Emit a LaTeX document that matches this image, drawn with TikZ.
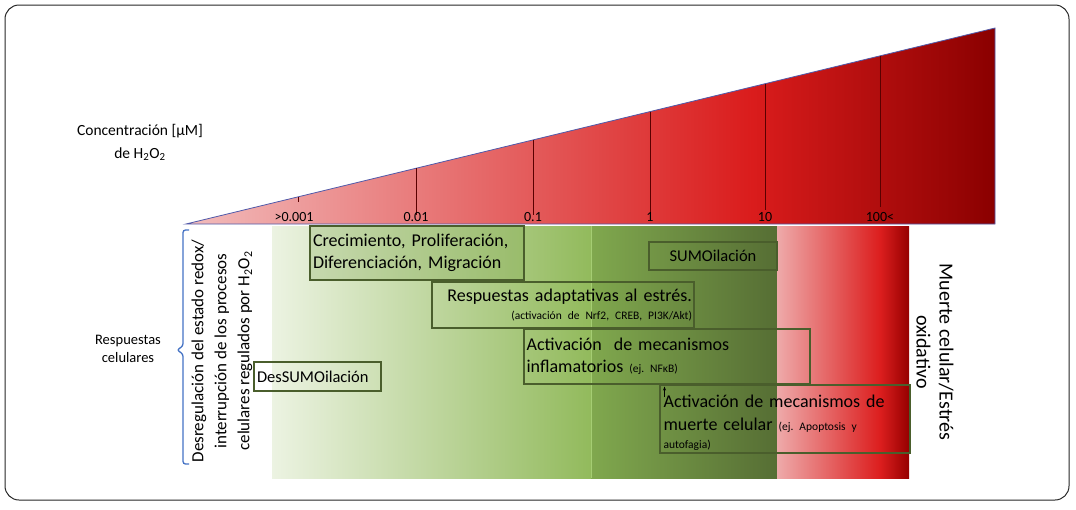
\documentclass[tikz,border=0pt]{standalone}
\usepackage{fontspec}
\setmainfont{Carlito}
\usetikzlibrary{arrows.meta}
\definecolor{tpink}{RGB}{242,188,188}
\definecolor{tred}{RGB}{218,28,28}
\definecolor{tdark}{RGB}{138,0,0}
\definecolor{gl1}{RGB}{236,243,226}
\definecolor{gl2}{RGB}{146,186,92}
\definecolor{gr1}{RGB}{128,168,78}
\definecolor{gr2}{RGB}{86,110,52}
\definecolor{rp}{RGB}{238,170,170}
\definecolor{rr}{RGB}{220,30,30}
\definecolor{rd}{RGB}{150,0,0}
\definecolor{boxline}{RGB}{74,94,44}
\definecolor{bracecol}{RGB}{68,114,196}
\definecolor{trioutline}{RGB}{80,90,170}
\definecolor{tickcol}{RGB}{90,0,0}
\pgfdeclarehorizontalshading{tri}{100bp}{color(0bp)=(tpink); color(25bp)=(tpink); color(60bp)=(tred); color(75bp)=(tdark); color(100bp)=(tdark)}
\pgfdeclarehorizontalshading{greenA}{100bp}{color(0bp)=(gl1); color(25bp)=(gl1); color(75bp)=(gl2); color(100bp)=(gl2)}
\pgfdeclarehorizontalshading{greenB}{100bp}{color(0bp)=(gr1); color(25bp)=(gr1); color(75bp)=(gr2); color(100bp)=(gr2)}
\pgfdeclarehorizontalshading{redbar}{100bp}{color(0bp)=(rp); color(25bp)=(rp); color(64bp)=(rr); color(75bp)=(rd); color(100bp)=(rd)}
\tikzset{
  box/.style={draw=boxline, line width=1.2pt, inner sep=0pt, inner xsep=3pt, font=\fontsize{18}{22}\selectfont\frenchspacing},
  boxtext/.style={inner sep=0pt, font=\fontsize{18}{22}\selectfont\frenchspacing},
  ticklbl/.style={font=\fontsize{14}{16}\selectfont, anchor=base},
  tickline/.style={draw=tickcol, line width=0.6pt},
}
\newcommand{\sm}{\fontsize{11.5}{13}\selectfont}
\begin{document}
\begin{tikzpicture}[x=1pt,y=-1pt]
\useasboundingbox (0,0) rectangle (1076,509);
% frame
\draw[line width=1pt, rounded corners=14pt, draw=black!85] (5,5) rectangle (1069,500);
% triangle
\shade[shading=tri, draw=trioutline, line width=0.8pt] (186,224) -- (995,28) -- (995,224) -- cycle;
% ticks
\foreach \x/\yb in {416/215, 533/215, 650/212, 765/210, 880/207}{
  \draw[tickline] (\x,{224-0.24227*(\x-186)}) -- (\x,\yb);
}
\draw[tickline] (298,{224-0.24227*(298-186)}) -- (298,202);
\node[ticklbl] (t1) at (294,221) {>0.001};
\node[ticklbl] (t2) at (416,221) {0.01};
\node[ticklbl] (t3) at (533,221) {0.1};
\node[ticklbl] (t4) at (650,221) {1};
\node[ticklbl] (t5) at (765,221) {10};
\node[ticklbl] (t6) at (880,221) {100<};
\node[align=center, font=\fontsize{15.5}{23}\selectfont] (conc) at (140,142) {Concentración [µM]\\de H\textsubscript{2}O\textsubscript{2}};
% background regions
\shade[shading=greenA] (272,226) rectangle (591,478);
\shade[shading=greenB] (591,226) rectangle (777,478);
\draw[draw={rgb,255:red,165;green,205;blue,115}, line width=1pt] (591,226) -- (591,478);
\shade[shading=redbar] (777,226) rectangle (909,478);
% brace
\draw[bracecol, line width=1.3pt, rounded corners=2.5pt] (189,230) -- (183,230) -- (183,346) -- (177,350) -- (183,354) -- (183,464) -- (189,464);
\node[align=center, font=\fontsize{14.5}{18}\selectfont] (resp) at (128,349) {Respuestas\\celulares};
\node[rotate=90, align=center, font=\fontsize{17}{23}\selectfont] (desreg) at (222,351) {Desregulación del estado redox/\\interrupción de los procesos\\celulares regulados por H\textsubscript{2}O\textsubscript{2}};
\node[rotate=-90, align=center, font=\fontsize{20}{23}\selectfont] (muerte) at (935,352) {Muerte celular/Estrés\\oxidativo};
% boxes
\node[box, fill={rgb,255:red,120;green,160;blue,70}, fill opacity=0.25, text opacity=1, minimum width=214pt, minimum height=54pt, text width=208pt, align=left] (crec) at (417,253) {Crecimiento, Proliferación,\\Diferenciación, Migración};
\node[box, font=\fontsize{16.5}{20}\selectfont, minimum width=128pt, minimum height=28pt, text width=122pt, align=center] (sumo) at (713,256) {SUMOilación};
\node[box, minimum width=262pt, minimum height=46pt, text width=258pt, align=right, inner xsep=2pt] (adapt) at (563,305) {Respuestas adaptativas al estrés.\\[-4pt]{\sm (activación de Nrf2, CREB, PI3K/Akt)}};
\node[box, minimum width=286pt, minimum height=55pt] (infl) at (667,356.5) {};
\node[boxtext, anchor=north west, text width=280pt, align=left] (infltxt) at ([xshift=3pt,yshift=-9pt]infl.north west) {Activación\ \ de mecanismos\\inflamatorios {\sm (ej. NFκB)}};
\node[box, font=\fontsize{16.5}{18}\selectfont, minimum width=127pt, minimum height=29pt, text width=121pt, align=left] (dessumo) at (317.5,376.5) {DesSUMOilación};
\node[box, minimum width=250pt, minimum height=68pt] (muertebox) at (785,419) {};
\node[boxtext, anchor=north west, text width=242pt, align=left] (muertetxt) at ([xshift=4pt,yshift=-10pt]muertebox.north west) {Activación de mecanismos de\\[1pt]muerte celular {\sm (ej. Apoptosis y}\\[-4pt]{\sm autofagia)}};
% small arrow
\coordinate (arA) at (664.5,397);
\coordinate (arB) at (664.5,386.5);
\draw[-{Stealth[length=4pt,width=3pt]}, line width=0.7pt] (arA) -- (arB);
\end{tikzpicture}
\end{document}
